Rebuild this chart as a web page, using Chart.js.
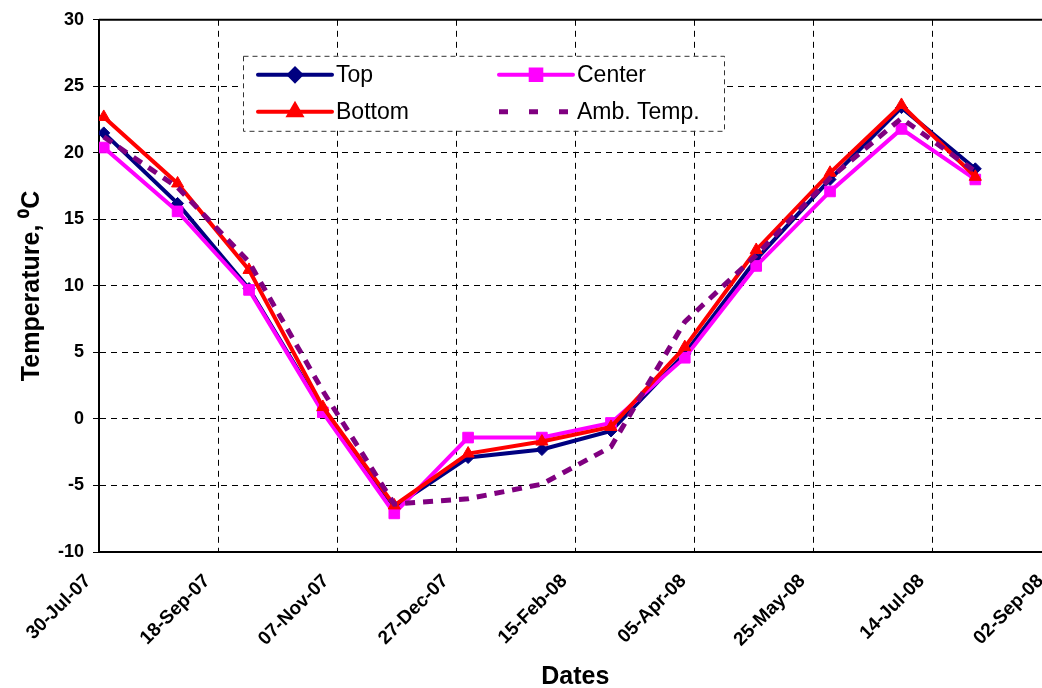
<!DOCTYPE html>
<html lang="en">
<head>
    <meta charset="UTF-8">
    <title>Temperature vs Dates</title>
    <script src="https://cdn.jsdelivr.net/npm/chart.js@4.4.0/dist/chart.umd.min.js"></script>
    <style>
        html, body { margin: 0; padding: 0; background: #fff; overflow: hidden; }
    </style>
</head>
<body>
    <canvas id="tempChart" width="1060" height="688"></canvas>

    <script>
        // Measurement dates (first of each month)
        const dates = ["01-Aug-07", "01-Sep-07", "01-Oct-07", "01-Nov-07", "01-Dec-07", "01-Jan-08", "01-Feb-08",
                       "01-Mar-08", "01-Apr-08", "01-May-08", "01-Jun-08", "01-Jul-08", "01-Aug-08"];
        const tickLabels = ["30-Jul-07", "18-Sep-07", "07-Nov-07", "27-Dec-07", "15-Feb-08",
                            "05-Apr-08", "25-May-08", "14-Jul-08", "02-Sep-08"];
        const topTemp = [21.5, 16.2, 9.8, 0.6, -6.6, -2.9, -2.3, -0.9, 4.9, 12.0, 18.0, 23.4, 18.8];
        const centerTemp = [20.4, 15.6, 9.7, 0.5, -7.1, -1.4, -1.4, -0.3, 4.6, 11.5, 17.1, 21.8, 18.0];
        const bottomTemp = [22.7, 17.7, 11.2, 0.9, -6.5, -2.6, -1.7, -0.6, 5.4, 12.7, 18.5, 23.6, 18.2];
        const ambTemp = [21.2, 17.4, 11.8, 2.1, -6.4, -6.0, -4.9, -2.1, 7.3, 12.3, 18.1, 22.6, 18.6];

        const FONT = '"Liberation Sans", Arial, sans-serif';
        const MONTHS = { Jan: 0, Feb: 1, Mar: 2, Apr: 3, May: 4, Jun: 5, Jul: 6, Aug: 7, Sep: 8, Oct: 9, Nov: 10, Dec: 11 };
        const ORIGIN = Date.UTC(2007, 6, 30);

        // day offset from 30-Jul-07
        function dayOf(str) {
            const [d, m, y] = str.split("-");
            return (Date.UTC(2000 + Number(y), MONTHS[m], Number(d)) - ORIGIN) / 86400000;
        }
        const toPoints = values => values.map((v, i) => ({ x: dayOf(dates[i]), y: v }));

        const seriesStyles = [
            { label: "Top", color: "#000080", pointStyle: "rectRot", radius: 6 },
            { label: "Center", color: "#FF00FF", pointStyle: "rect", radius: 7.5 },
            { label: "Bottom", color: "#FF0000", pointStyle: "triangle", radius: 7 },
            { label: "Amb. Temp.", color: "#800080", pointStyle: false, radius: 0, dash: [10, 8] }
        ];

        // solid frame line along the top of the plot area
        const plotFrame = {
            id: "plotFrame",
            beforeDatasetsDraw(chart) {
                const { ctx, chartArea } = chart;
                ctx.save();
                ctx.strokeStyle = "#000";
                ctx.lineWidth = 2;
                ctx.beginPath();
                ctx.moveTo(chartArea.left, chartArea.top);
                ctx.lineTo(chartArea.right, chartArea.top);
                ctx.stroke();
                ctx.restore();
            }
        };

        // boxed two-column legend inside the plot
        const boxLegend = {
            id: "boxLegend",
            afterDraw(chart) {
                const { ctx, chartArea } = chart;
                const bx = chartArea.left + 144, by = chartArea.top + 36, bw = 481, bh = 75;
                ctx.save();
                ctx.fillStyle = "#fff";
                ctx.fillRect(bx, by, bw, bh);
                ctx.setLineDash([5, 4]);
                ctx.strokeStyle = "#333";
                ctx.lineWidth = 1;
                ctx.strokeRect(bx + 0.5, by + 0.5, bw, bh);
                ctx.setLineDash([]);

                seriesStyles.forEach((s, k) => {
                    const col = k % 2, row = Math.floor(k / 2);
                    const x0 = bx + 15 + col * 241;
                    const y0 = by + 19 + row * 37;
                    ctx.strokeStyle = s.color;
                    ctx.fillStyle = s.color;
                    if (s.dash) {
                        ctx.lineWidth = 5;
                        ctx.setLineDash([9, 21]);
                        ctx.beginPath();
                        ctx.moveTo(x0, y0);
                        ctx.lineTo(x0 + 74, y0);
                        ctx.stroke();
                        ctx.setLineDash([]);
                    } else {
                        ctx.lineWidth = 4;
                        ctx.lineCap = "round";
                        ctx.beginPath();
                        ctx.moveTo(x0, y0);
                        ctx.lineTo(x0 + 74, y0);
                        ctx.stroke();
                        ctx.lineCap = "butt";
                        Chart.helpers.drawPoint(ctx, { pointStyle: s.pointStyle, radius: s.radius, rotation: 0, borderWidth: 1 }, x0 + 37, y0);
                    }
                    ctx.fillStyle = "#000";
                    ctx.font = "23px " + FONT;
                    ctx.textAlign = "left";
                    ctx.textBaseline = "middle";
                    ctx.fillText(s.label, x0 + 78, y0 + 1);
                });
                ctx.restore();
            }
        };

        const allSeries = [topTemp, centerTemp, bottomTemp, ambTemp];
        const datasets = seriesStyles.map((s, i) => ({
            label: s.label,
            data: toPoints(allSeries[i]),
            borderColor: s.color,
            backgroundColor: s.color,
            borderWidth: s.dash ? 5 : 4,
            borderDash: s.dash || [],
            pointStyle: s.pointStyle,
            pointRadius: s.radius,
            pointBorderWidth: 1,
            tension: 0,
            order: 4 - i
        }));

        const ctx = document.getElementById("tempChart").getContext("2d");
        new Chart(ctx, {
            type: "line",
            data: { datasets },
            options: {
                responsive: false,
                animation: false,
                devicePixelRatio: 1,
                layout: { padding: { top: 17, right: 2, left: 0, bottom: 0 } },
                plugins: { legend: { display: false }, tooltip: { enabled: false } },
                scales: {
                    x: {
                        type: "linear",
                        min: 0,
                        max: 400,
                        afterFit: s => { s.height = 136; s.paddingLeft = 0; s.paddingRight = 0; },
                        ticks: {
                            stepSize: 50,
                            autoSkip: false,
                            maxRotation: 45,
                            minRotation: 45,
                            padding: 18,
                            labelOffset: -11,
                            color: "#000",
                            font: { family: FONT, size: 19, weight: "bold" },
                            callback: (v, i) => tickLabels[i]
                        },
                        grid: { color: "#000", lineWidth: 1, drawTicks: false },
                        border: { color: "#000", width: 2, dash: [6, 5] },
                        title: {
                            display: true,
                            text: "Dates",
                            color: "#000",
                            font: { family: FONT, size: 25, weight: "bold" },
                            padding: { top: 0, bottom: -4 }
                        }
                    },
                    y: {
                        min: -10,
                        max: 30,
                        afterFit: s => { s.width = 99; },
                        ticks: {
                            stepSize: 5,
                            padding: 9,
                            color: "#000",
                            font: { family: FONT, size: 18, weight: "bold" }
                        },
                        grid: { color: "#000", lineWidth: 1, tickLength: 6, tickColor: "#000" },
                        border: { color: "#000", width: 2, dash: [6, 5] },
                        title: {
                            display: true,
                            text: "Temperature, \u2070C",
                            color: "#000",
                            font: { family: FONT, size: 25, weight: "bold" },
                            padding: { top: 17, bottom: 0 }
                        }
                    }
                }
            },
            plugins: [plotFrame, boxLegend]
        });
    </script>
</body>
</html>
